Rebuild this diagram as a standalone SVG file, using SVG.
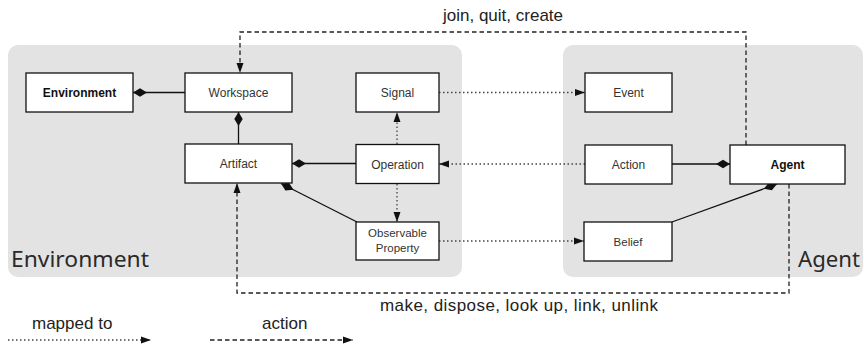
<svg xmlns="http://www.w3.org/2000/svg" width="864" height="347" viewBox="0 0 864 347">
  <style>
    .panel { fill: #e3e3e3; }
    .panel-title { font-family: "Noto Sans", "Liberation Sans", sans-serif; font-size: 22px; fill: #2a2a2a; }
    .box { fill: #ffffff; stroke: #111111; stroke-width: 1.3; }
    .label { font-family: "Liberation Sans", Arial, sans-serif; font-size: 12px; fill: #333333; text-anchor: middle; }
    .bold { font-weight: bold; fill: #111111; }
    .small { font-size: 11.5px; }
    .comp { fill: none; stroke: #111111; stroke-width: 1.3; marker-end: url(#diamond); }
    .map { fill: none; stroke: #444444; stroke-width: 1.3; stroke-dasharray: 1.5 2.5; marker-end: url(#arrow); }
    .act { fill: none; stroke: #222222; stroke-width: 1.3; stroke-dasharray: 4.5 3; marker-end: url(#arrow); }
    .caption { font-family: "Liberation Sans", Arial, sans-serif; font-size: 17px; fill: #222222; }
  </style>
  <defs>
    <marker id="diamond" markerUnits="userSpaceOnUse" markerWidth="16" markerHeight="10" refX="15" refY="5" orient="auto">
      <path d="M1,5 L8,0.8 L15,5 L8,9.2 z" fill="#111111"/>
    </marker>
    <marker id="arrow" markerUnits="userSpaceOnUse" markerWidth="12" markerHeight="8" refX="11" refY="4" orient="auto">
      <path d="M1,0.5 L11,4 L1,7.5 z" fill="#111111"/>
    </marker>
  </defs>

  <!-- background panels -->
  <g id="environment-panel">
    <rect class="panel" x="8" y="45" width="454" height="232" rx="10"/>
    <text class="panel-title" x="11" y="267" textLength="138" lengthAdjust="spacingAndGlyphs">Environment</text>
  </g>
  <g id="agent-panel">
    <rect class="panel" x="563" y="45" width="300" height="232" rx="10"/>
    <text class="panel-title" x="798" y="267" textLength="62" lengthAdjust="spacingAndGlyphs">Agent</text>
  </g>

  <!-- connectors -->
  <g id="connectors">
    <!-- composition -->
    <line class="comp" x1="185" y1="92.5" x2="133" y2="92.5"/>
    <line class="comp" x1="238.5" y1="144" x2="238.5" y2="112"/>
    <line class="comp" x1="356" y1="163.5" x2="292" y2="163.5"/>
    <line class="comp" x1="357" y1="222" x2="281" y2="183.5"/>
    <line class="comp" x1="672" y1="164" x2="730" y2="164"/>
    <line class="comp" x1="672" y1="222" x2="777" y2="184"/>
    <!-- mapped to -->
    <line class="map" x1="439" y1="92.5" x2="585" y2="92.5"/>
    <line class="map" x1="585" y1="164" x2="439" y2="164"/>
    <line class="map" x1="439" y1="241" x2="584" y2="241"/>
    <line class="map" x1="397" y1="144" x2="397" y2="112"/>
    <line class="map" x1="397" y1="184" x2="397" y2="222"/>
    <!-- actions -->
    <path class="act" d="M746,145 V32 H240 V73"/>
    <path class="act" d="M789,184 V293 H237 V183"/>
    <text class="caption" x="443" y="21">join, quit, create</text>
    <text class="caption" x="380" y="311" textLength="278" lengthAdjust="spacing">make, dispose, look up, link, unlink</text>
  </g>

  <!-- nodes -->
  <g id="node-environment">
    <rect class="box" x="26" y="73" width="107" height="39"/>
    <text class="label bold" x="79.5" y="97">Environment</text>
  </g>
  <g id="node-workspace">
    <rect class="box" x="185" y="73" width="107" height="39"/>
    <text class="label" x="238.5" y="97">Workspace</text>
  </g>
  <g id="node-artifact">
    <rect class="box" x="185" y="144" width="107" height="39"/>
    <text class="label" x="238.5" y="168">Artifact</text>
  </g>
  <g id="node-signal">
    <rect class="box" x="356" y="73" width="83" height="39"/>
    <text class="label" x="397.5" y="97">Signal</text>
  </g>
  <g id="node-operation">
    <rect class="box" x="356" y="144.5" width="83" height="39"/>
    <text class="label" x="397.5" y="168.5">Operation</text>
  </g>
  <g id="node-observable-property">
    <rect class="box" x="356" y="222" width="83" height="38"/>
    <text class="label small" x="397.5" y="237">Observable</text>
    <text class="label small" x="397.5" y="252">Property</text>
  </g>
  <g id="node-event">
    <rect class="box" x="585" y="73" width="87" height="39"/>
    <text class="label" x="628.5" y="97">Event</text>
  </g>
  <g id="node-action">
    <rect class="box" x="585" y="145" width="87" height="39"/>
    <text class="label" x="628.5" y="169">Action</text>
  </g>
  <g id="node-agent">
    <rect class="box" x="730" y="145" width="115" height="39"/>
    <text class="label bold" x="787.5" y="169">Agent</text>
  </g>
  <g id="node-belief">
    <rect class="box" x="584" y="222" width="88" height="39"/>
    <text class="label small" x="628" y="246">Belief</text>
  </g>

  <!-- legend -->
  <g id="legend">
    <text class="caption" x="32" y="329">mapped to</text>
    <line class="map" x1="8" y1="340" x2="151" y2="340"/>
    <text class="caption" x="262" y="329">action</text>
    <line class="act" x1="210" y1="340" x2="353" y2="340"/>
  </g>
</svg>
